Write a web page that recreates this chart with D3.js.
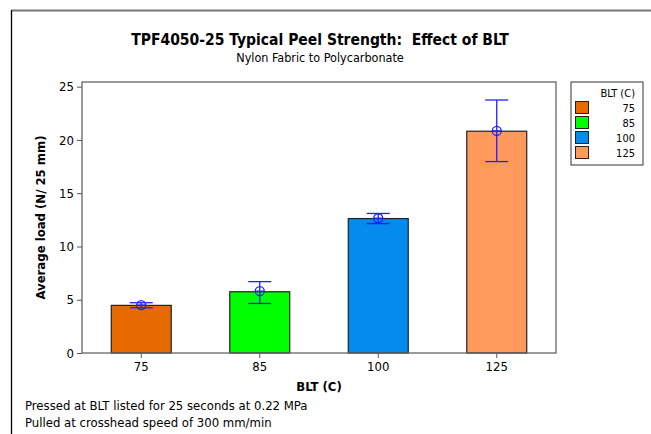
<!DOCTYPE html>
<html>
<head>
<meta charset="utf-8">
<script src="https://cdn.jsdelivr.net/npm/d3@7"></script>
<style>
  html, body { margin: 0; padding: 0; background: #fff; }
  svg { display: block; }
  text { font-family: "DejaVu Sans Condensed", "DejaVu Sans", sans-serif; fill: #000; }
</style>
</head>
<body>
<svg id="chart" width="651" height="434"></svg>
<script>
const categories = ["75", "85", "100", "125"];
const means = [4.47, 5.75, 12.62, 20.82];
const markerMeans = [4.5, 5.8, 12.65, 20.85];
const errLow = [4.25, 4.65, 12.15, 17.97];
const errHigh = [4.72, 6.7, 13.1, 23.75];
const colors = ["#E66A00", "#00FF00", "#058AEE", "#FF9A5C"];
const yTicks = [0, 5, 10, 15, 20, 25];

const svg = d3.select("#chart");
const W = 651, H = 434;
const plot = { left: 82, right: 556, top: 82, bottom: 353 };

// outer frame
svg.append("line").attr("x1", 11.5).attr("y1", 10.5).attr("x2", W).attr("y2", 10.5)
  .attr("stroke", "#777").attr("stroke-width", 2);
svg.append("line").attr("x1", 11.5).attr("y1", 10).attr("x2", 11.5).attr("y2", H)
  .attr("stroke", "#000").attr("stroke-width", 1.3);

const x = d3.scaleBand().domain(categories).range([plot.left, plot.right]).paddingInner(0.494).paddingOuter(0.247);
const y = d3.scaleLinear().domain([0, 25.44]).range([plot.bottom, plot.top]);

// titles
svg.append("text").attr("x", 320).attr("y", 45).attr("text-anchor", "middle")
  .attr("xml:space", "preserve").style("white-space", "pre")
  .style("font-weight", "bold").style("font-size", "15.5px")
  .text("TPF4050-25 Typical Peel Strength:  Effect of BLT");
svg.append("text").attr("x", 320).attr("y", 62).attr("text-anchor", "middle")
  .style("font-size", "12.5px").text("Nylon Fabric to Polycarbonate");

// bars
svg.append("g").selectAll("rect").data(categories).join("rect")
  .attr("x", d => x(d)).attr("width", x.bandwidth())
  .attr("y", (d, i) => y(means[i])).attr("height", (d, i) => y(0) - y(means[i]))
  .attr("fill", (d, i) => colors[i]).attr("stroke", "#222").attr("stroke-width", 1.2);

// plot frame
svg.append("rect").attr("x", plot.left).attr("y", plot.top)
  .attr("width", plot.right - plot.left).attr("height", plot.bottom - plot.top)
  .attr("fill", "none").attr("stroke", "#666").attr("stroke-width", 1.3);

// axes
const yAxis = svg.append("g").attr("transform", `translate(${plot.left},0)`)
  .call(d3.axisLeft(y).tickValues(yTicks).tickSize(5).tickPadding(3).tickFormat(d3.format("d")));
yAxis.select(".domain").remove();
yAxis.selectAll(".tick line").attr("stroke", "#555");
yAxis.selectAll(".tick text").style("font-size", "13px").style("font-family", '"DejaVu Sans Condensed", "DejaVu Sans", sans-serif');

const xAxis = svg.append("g").attr("transform", `translate(0,${plot.bottom})`)
  .call(d3.axisBottom(x).tickSize(5).tickPadding(4));
xAxis.select(".domain").remove();
xAxis.selectAll(".tick line").attr("stroke", "#555");
xAxis.selectAll(".tick text").style("font-size", "13px").style("font-family", '"DejaVu Sans Condensed", "DejaVu Sans", sans-serif');

// error bars
const eb = svg.append("g").attr("stroke", "#2020FF").attr("fill", "none").attr("stroke-width", 1.3);
categories.forEach((c, i) => {
  const cx = x(c) + x.bandwidth() / 2;
  const cw = 11.5;
  eb.append("line").attr("x1", cx).attr("x2", cx).attr("y1", y(errLow[i])).attr("y2", y(errHigh[i]));
  eb.append("line").attr("x1", cx - cw).attr("x2", cx + cw).attr("y1", y(errLow[i])).attr("y2", y(errLow[i]));
  eb.append("line").attr("x1", cx - cw).attr("x2", cx + cw).attr("y1", y(errHigh[i])).attr("y2", y(errHigh[i]));
  eb.append("circle").attr("cx", cx).attr("cy", y(markerMeans[i])).attr("r", 4.5);
  eb.append("line").attr("x1", cx - 4.5).attr("x2", cx + 4.5).attr("y1", y(markerMeans[i])).attr("y2", y(markerMeans[i]));
});

// axis titles
svg.append("text").attr("x", 319).attr("y", 391).attr("text-anchor", "middle")
  .style("font-weight", "bold").style("font-size", "13px").text("BLT (C)");
svg.append("text").attr("transform", `translate(45,${(plot.top + plot.bottom) / 2}) rotate(-90)`)
  .attr("text-anchor", "middle").style("font-weight", "bold").style("font-size", "13px")
  .text("Average load (N/ 25 mm)");

// footnotes
svg.append("text").attr("x", 25).attr("y", 410).style("font-size", "13px")
  .text("Pressed at BLT listed for 25 seconds at 0.22 MPa");
svg.append("text").attr("x", 25).attr("y", 427).style("font-size", "13px")
  .text("Pulled at crosshead speed of 300 mm/min");

// legend
const lg = svg.append("g");
lg.append("rect").attr("x", 571).attr("y", 82).attr("width", 72).attr("height", 83)
  .attr("fill", "#fff").attr("stroke", "#333").attr("stroke-width", 1);
lg.append("text").attr("x", 635).attr("y", 97).attr("text-anchor", "end")
  .style("font-size", "11px").text("BLT (C)");
categories.forEach((c, i) => {
  const yy = 101 + i * 15;
  lg.append("rect").attr("x", 575.5).attr("y", yy + 0.5).attr("width", 13).attr("height", 12)
    .attr("fill", colors[i]).attr("stroke", "#222").attr("stroke-width", 1);
  lg.append("text").attr("x", 635).attr("y", yy + 11).attr("text-anchor", "end")
    .style("font-size", "11px").text(c);
});
</script>
</body>
</html>
